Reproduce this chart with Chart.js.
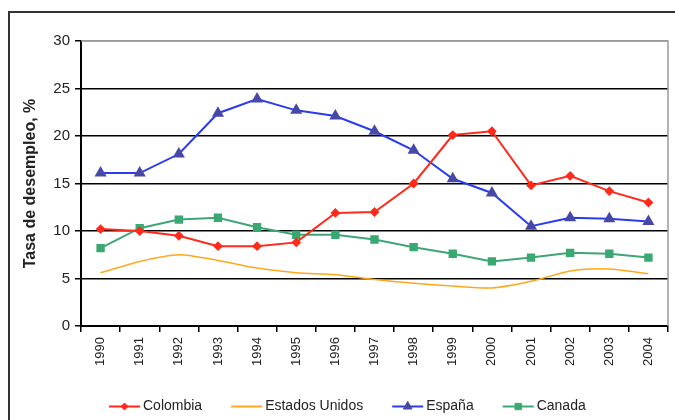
<!DOCTYPE html>
<html lang="es">
<head>
<meta charset="UTF-8">
<title>Tasa de desempleo</title>
<script src="https://cdn.jsdelivr.net/npm/chart.js"></script>
<style>
    html, body { margin: 0; padding: 0; background: #fff; overflow: hidden; }
    .wrap { position: relative; width: 675px; height: 420px; }
    .frame {
        position: absolute; left: 8px; top: 11px;
        width: 720px; height: 500px;
        border: 2px solid #333; box-sizing: border-box;
    }
    canvas { position: absolute; left: 0; top: 0; }
</style>
</head>
<body>
<div class="wrap">
    <div class="frame"></div>
    <canvas id="chart" width="675" height="420"></canvas>
</div>
<script>
    const years = ['1990', '1991', '1992', '1993', '1994', '1995', '1996', '1997',
                   '1998', '1999', '2000', '2001', '2002', '2003', '2004'];
    const colombia = [10.2, 10.0, 9.5, 8.4, 8.4, 8.8, 11.9, 12.0, 15.0, 20.1, 20.5, 14.8, 15.8, 14.2, 13.0];
    const estadosUnidos = [5.6, 6.8, 7.5, 6.9, 6.1, 5.6, 5.4, 4.9, 4.5, 4.2, 4.0, 4.7, 5.8, 6.0, 5.5];
    const espana = [16.1, 16.1, 18.1, 22.4, 23.9, 22.7, 22.1, 20.5, 18.5, 15.5, 14.0, 10.5, 11.4, 11.3, 11.0];
    const canada = [8.2, 10.3, 11.2, 11.4, 10.4, 9.6, 9.6, 9.1, 8.3, 7.6, 6.8, 7.2, 7.7, 7.6, 7.2];
    const yTicks = [0, 5, 10, 15, 20, 25, 30];

    const FONT = '"Liberation Sans", Arial, sans-serif';
    Chart.defaults.font.family = FONT;
    Chart.defaults.color = '#222';

    // marco gris del area de trazado (arriba y derecha)
    const plotFrame = {
        id: 'plotFrame',
        beforeDatasetsDraw(chart) {
            const { ctx, chartArea: a } = chart;
            ctx.save();
            ctx.strokeStyle = '#9a9a9a';
            ctx.lineWidth = 1.5;
            ctx.beginPath();
            ctx.moveTo(a.left, a.top);
            ctx.lineTo(a.right, a.top);
            ctx.lineTo(a.right, a.bottom);
            ctx.stroke();
            ctx.restore();
        }
    };

    // leyenda abajo con linea + marcador
    const bottomLegend = {
        id: 'bottomLegend',
        afterDraw(chart) {
            const { ctx } = chart;
            const y = 406.5;
            const lineLen = 31, gap = 3, spacing = 29;
            ctx.save();
            ctx.font = '14px ' + FONT;
            ctx.textBaseline = 'middle';
            let x = 109;
            chart.data.datasets.forEach(d => {
                ctx.strokeStyle = d.borderColor;
                ctx.lineWidth = 2;
                ctx.beginPath();
                ctx.moveTo(x, y);
                ctx.lineTo(x + lineLen, y);
                ctx.stroke();
                if (d.pointRadius > 0) {
                    ctx.fillStyle = d.pointBackgroundColor;
                    ctx.strokeStyle = d.pointBorderColor;
                    ctx.lineWidth = 1;
                    Chart.helpers.drawPoint(ctx, {
                        pointStyle: d.pointStyle,
                        radius: d.pointRadius,
                        rotation: 0,
                        borderWidth: 1
                    }, x + lineLen / 2, y);
                }
                ctx.fillStyle = '#222';
                ctx.fillText(d.label, x + lineLen + gap, y);
                x += lineLen + gap + ctx.measureText(d.label).width + spacing;
            });
            ctx.restore();
        }
    };

    new Chart(document.getElementById('chart'), {
        type: 'line',
        data: {
            labels: years,
            datasets: [
                {
                    label: 'Colombia', data: colombia,
                    borderColor: '#ff2a1a', borderWidth: 2,
                    pointStyle: 'rectRot', pointRadius: 3.5,
                    pointBackgroundColor: '#ff2a1a', pointBorderColor: '#ff2a1a',
                    tension: 0
                },
                {
                    label: 'Estados Unidos', data: estadosUnidos,
                    borderColor: '#ffa81c', borderWidth: 1.5,
                    pointRadius: 0, tension: 0.25
                },
                {
                    label: 'España', data: espana,
                    borderColor: '#2a3cf0', borderWidth: 2,
                    pointStyle: 'triangle', pointRadius: 5,
                    pointBackgroundColor: '#4848a8', pointBorderColor: '#4848a8',
                    tension: 0
                },
                {
                    label: 'Canada', data: canada,
                    borderColor: '#3ea676', borderWidth: 2,
                    pointStyle: 'rect', pointRadius: 4.5,
                    pointBackgroundColor: '#3aa872', pointBorderColor: '#3aa872',
                    tension: 0
                }
            ]
        },
        options: {
            responsive: false,
            animation: false,
            layout: { padding: { top: 41, right: 6, left: 0, bottom: 0 } },
            plugins: {
                legend: { display: false },
                tooltip: { enabled: false }
            },
            scales: {
                x: {
                    offset: true,
                    grid: {
                        offset: true,
                        drawOnChartArea: false,
                        drawTicks: true,
                        tickLength: 6,
                        color: '#000',
                        lineWidth: 1.5
                    },
                    border: { color: '#000', width: 2 },
                    ticks: {
                        minRotation: 90, maxRotation: 90,
                        padding: 5,
                        font: { size: 13 },
                        color: '#222'
                    },
                    afterFit(scale) { scale.height = 94; }
                },
                y: {
                    min: 0, max: 30,
                    afterBuildTicks(scale) {
                        scale.ticks = yTicks.map(v => ({ value: v }));
                    },
                    grid: {
                        color: ctx => (ctx.tick && ctx.tick.value === 30) ? '#9a9a9a' : '#000',
                        tickColor: '#000',
                        lineWidth: 1.5,
                        tickLength: 6,
                        drawTicks: true
                    },
                    border: { color: '#000', width: 2 },
                    ticks: {
                        padding: 5,
                        font: { size: 15 },
                        color: '#222'
                    },
                    title: {
                        display: true,
                        text: 'Tasa de desempleo, %',
                        font: { size: 16, weight: 'bold' },
                        color: '#222',
                        padding: { top: 21, bottom: 0 }
                    },
                    afterFit(scale) { scale.width = 81; }
                }
            }
        },
        plugins: [plotFrame, bottomLegend]
    });
</script>
</body>
</html>
